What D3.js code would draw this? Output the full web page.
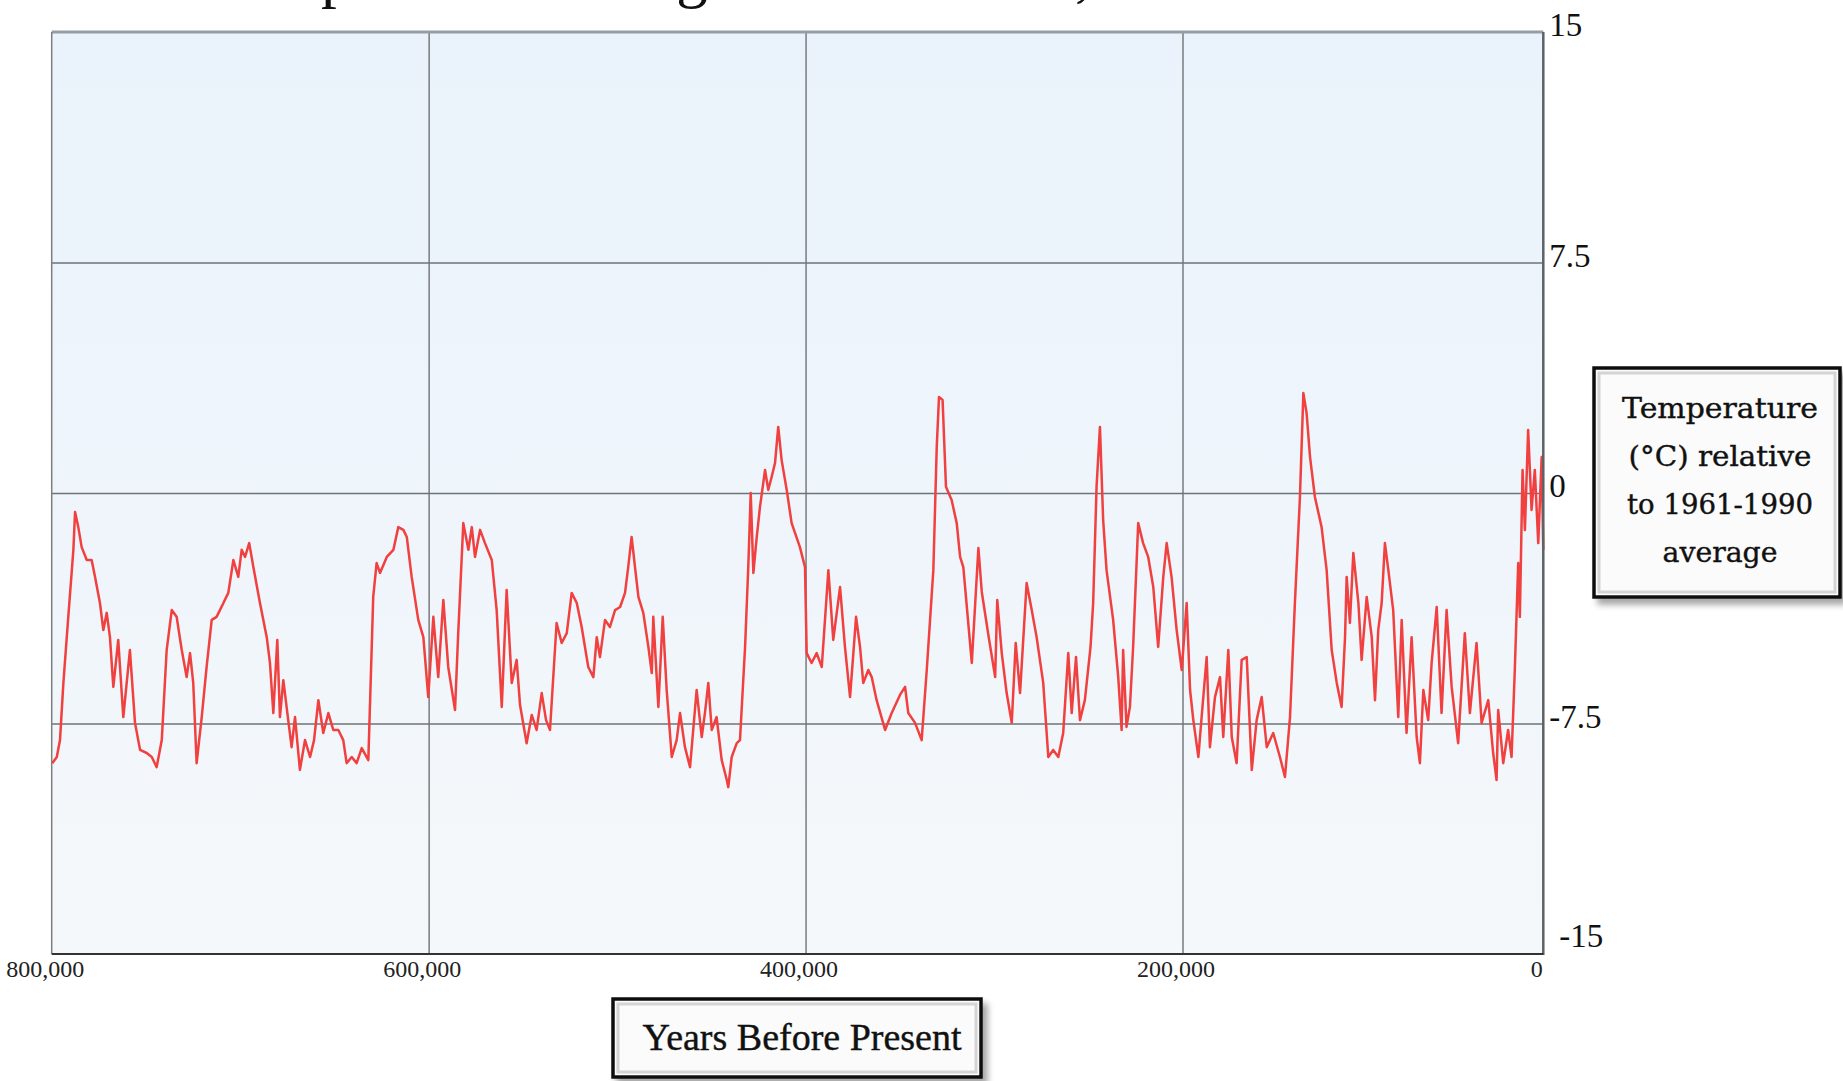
<!DOCTYPE html>
<html><head><meta charset="utf-8">
<script src="https://cdn.jsdelivr.net/npm/d3@7"></script>
<style>html,body{margin:0;padding:0;background:#fff;overflow:hidden}svg{display:block}</style>
</head><body>
<svg id="chart" width="1843" height="1081"></svg>
<script>
// ---------------- data ----------------
const titleText = "Temperature Change in Antarctica, EPICA Dome C";
const xTickValues = [800000, 600000, 400000, 200000, 0];
const yTickValues = [15, 7.5, 0, -7.5, -15];
const yTickLabels = ["15", "7.5", "0", "-7.5", "-15"];
const yAxisTitleLines = ["Temperature", "(°C) relative", "to 1961-1990", "average"];
const xAxisTitle = "Years Before Present";

// age in thousands of years before present
const agesKyr = [
799.7,797.3,795.6,793.8,791.2,788.5,787.6,785.9,784.1,781.4,778.8,777.0,774.4,772.6,770.8,769.1,767.3,764.7,762.0,758.5,
755.8,753.1,749.6,746.9,744.3,741.6,739.0,736.3,733.7,731.0,728.4,726.6,724.9,723.1,720.4,717.8,715.1,712.5,708.9,706.3,
703.6,701.0,699.2,697.4,695.2,693.0,689.5,685.9,684.2,682.4,680.3,678.9,677.1,674.5,672.7,670.9,668.3,665.6,662.9,660.8,
658.5,655.9,653.2,650.6,647.9,645.3,643.5,640.8,638.2,635.5,632.0,629.4,627.6,625.8,622.2,618.7,616.1,613.4,611.6,609.0,
605.5,602.8,600.2,597.5,594.9,592.2,589.6,586.0,584.3,581.6,578.9,577.1,575.4,572.7,570.1,566.5,563.9,561.2,
558.6,555.9,553.3,551.5,548.0,545.3,542.7,540.0,537.7,535.6,532.1,529.4,526.7,524.1,521.4,518.8,515.3,512.6,510.8,509.1,
506.4,503.8,501.1,498.4,495.8,494.1,492.3,490.5,488.7,486.1,483.4,481.6,480.8,478.1,475.8,473.7,471.0,468.4,466.6,464.0,
461.3,457.8,455.1,453.4,451.6,449.8,447.2,444.5,441.8,441.0,439.2,436.5,434.8,432.1,430.4,429.1,427.7,425.9,424.2,421.5,
419.8,418.0,416.2,414.5,412.7,410.0,407.4,405.6,403.0,400.3,399.4,396.8,394.1,391.4,387.9,385.3,381.7,379.1,376.4,373.2,
371.1,369.4,366.7,364.9,362.3,357.8,354.3,349.9,347.2,345.5,341.9,338.4,335.7,332.2,330.4,329.2,327.3,325.5,322.5,319.8,
318.0,316.3,311.8,308.3,306.5,303.0,299.4,298.3,295.9,
293.3,290.6,288.5,286.2,282.7,280.0,277.4,273.9,271.2,268.6,265.9,263.3,260.6,258.8,256.5,254.4,251.8,248.8,247.4,245.6,
243.8,242.1,240.3,236.8,234.1,232.3,231.5,229.7,227.9,226.2,223.5,220.9,218.2,215.5,212.9,210.2,208.4,205.8,203.1,200.4,
197.7,195.8,194.0,191.2,189.4,186.6,184.8,182.0,179.2,177.4,174.6,172.7,170.0,167.2,164.4,161.6,
158.9,156.1,153.3,149.7,146.0,143.2,140.4,137.7,134.9,133.0,131.2,129.3,126.6,122.9,120.1,117.3,114.5,111.8,109.9,109.0,
107.2,105.3,102.5,100.7,97.9,95.1,93.3,91.5,89.6,87.8,85.9,83.2,80.4,78.5,75.8,73.0,70.2,68.4,66.5,63.8,
61.9,59.1,56.4,53.6,50.8,47.2,43.5,40.7,37.0,34.2,30.5,27.8,25.9,25.0,22.2,19.5,17.6,15.8,13.9,13.0,
11.5,10.2,8.4,6.5,4.7,2.8,0.9,0.0
];

// temperature (°C) relative to 1961-1990 average
const tempsC = [
-8.79,-8.59,-8.04,-6.18,-4.03,-1.85,-0.62,-1.11,-1.76,-2.18,-2.18,-2.73,-3.58,-4.46,-3.90,-4.69,-6.31,-4.78,-7.29,-5.11,
-7.48,-8.36,-8.46,-8.59,-8.92,-8.04,-5.11,-3.81,-4.03,-5.11,-5.99,-5.21,-6.18,-8.79,-7.29,-5.66,-4.13,-4.03,-3.58,-3.25,
-2.18,-2.73,-1.85,-2.08,-1.63,-2.41,-3.58,-4.69,-5.53,-7.16,-4.78,-7.29,-6.09,-7.39,-8.27,-7.29,-9.01,-8.04,-8.59,-8.04,
-6.74,-7.81,-7.16,-7.71,-7.71,-8.04,-8.79,-8.59,-8.79,-8.30,-8.69,-3.38,-2.28,-2.60,-2.08,-1.85,-1.11,-1.20,-1.43,-2.73,
-4.13,-4.69,-6.64,-4.03,-5.99,-3.48,-5.66,-7.06,-4.56,-0.98,-1.85,-1.11,-2.08,-1.20,-1.63,-2.18,-3.81,-6.96,
-3.16,-6.18,-5.43,-6.90,-8.14,-7.22,-7.71,-6.51,-7.39,-7.71,-4.23,-4.88,-4.56,-3.25,-3.58,-4.36,-5.66,-5.99,-4.69,-5.34,
-4.13,-4.36,-3.81,-3.71,-3.25,-2.41,-1.43,-2.41,-3.38,-3.90,-5.01,-5.86,-4.03,-6.96,-4.03,-6.41,-8.59,-8.04,-7.16,-8.27,
-8.92,-6.41,-7.94,-7.16,-6.18,-7.71,-7.29,-8.69,-9.34,-9.57,-8.59,-8.14,-8.04,-5.01,-2.41,0.00,-2.60,-1.43,-0.46,0.75,
0.10,0.52,0.98,2.15,1.07,0.10,-0.98,-1.30,-1.76,-2.41,-5.21,-5.53,-5.21,-5.66,-2.51,-4.78,-3.06,-5.01,-6.64,-4.03,
-5.01,-6.18,-5.76,-5.99,-6.74,-7.71,-7.16,-6.57,-6.31,-7.16,-7.48,-8.04,-5.76,-2.51,1.50,3.12,3.03,0.20,-0.23,-0.98,
-2.08,-2.41,-5.53,-1.79,-3.22,-4.62,-5.99,-3.48,-5.21,
-6.51,-7.48,-4.88,-6.51,-2.93,-3.81,-4.69,-6.18,-8.59,-8.36,-8.59,-7.81,-5.21,-7.16,-5.34,-7.39,-6.74,-5.01,-3.58,0.20,
2.15,-0.88,-2.51,-4.13,-5.99,-7.71,-5.11,-7.61,-6.96,-5.01,-0.98,-1.63,-2.08,-3.06,-5.01,-2.73,-1.63,-2.73,-4.46,-5.76,
-3.58,-6.41,-7.39,-8.59,-7.29,-5.34,-8.27,-6.64,-5.99,-7.94,-5.11,-7.94,-8.79,-5.43,-5.34,-9.01,
-7.39,-6.64,-8.27,-7.81,-8.59,-9.24,-7.29,-3.58,-0.13,3.25,2.60,1.17,-0.13,-1.11,-2.51,-5.11,-6.18,-6.96,-4.69,-2.73,
-4.23,-1.95,-3.58,-5.43,-3.38,-4.69,-6.74,-4.46,-3.58,-1.63,-2.51,-3.81,-7.29,-4.13,-7.81,-4.69,-7.94,-8.79,-6.41,-7.39,
-5.53,-3.71,-7.16,-3.81,-6.31,-8.14,-4.56,-7.16,-4.88,-7.48,-6.74,-8.46,-9.34,-7.06,-8.79,-7.71,-8.59,-5.76,-2.28,-4.03,
0.75,-1.20,2.05,-0.55,0.75,-1.63,1.17,-1.85
];

// ---------------- drawing ----------------
const svg = d3.select("#chart");
const defs = svg.append("defs");

const bg = defs.append("linearGradient").attr("id", "plotbg")
  .attr("x1", 0).attr("y1", 0).attr("x2", 0).attr("y2", 1);
bg.append("stop").attr("offset", "0%").attr("stop-color", "#eaf3fb");
bg.append("stop").attr("offset", "55%").attr("stop-color", "#eff5fb");
bg.append("stop").attr("offset", "100%").attr("stop-color", "#f5f8fa");

const shadow = defs.append("filter").attr("id", "shadow")
  .attr("x", "-10%").attr("y", "-10%").attr("width", "130%").attr("height", "140%");
shadow.append("feDropShadow").attr("dx", 5).attr("dy", 6).attr("stdDeviation", 3)
  .attr("flood-color", "#000").attr("flood-opacity", 0.35);

const L = 51.7, R = 1543.3, T = 32, B = 954;
// the reference axis places 200,000 → 0 on a slightly shorter span
const x = d3.scaleLinear().domain([800000, 200000, 0]).range([L, 1182.5, R]);
const y = d3.scaleLinear().domain([-15, 15]).range([B, T]);

// title (cut off by the top edge in the reference)
svg.append("text").attr("x", 210).attr("y", -5)
  .attr("font-family", "Liberation Serif, serif").attr("font-size", 63)
  .attr("fill", "#111").text(titleText);

// plot background
svg.append("rect").attr("x", L).attr("y", T).attr("width", R - L).attr("height", B - T)
  .attr("fill", "url(#plotbg)");

// grid lines
const gridX = svg.append("g").attr("transform", `translate(0,${B})`)
  .call(d3.axisBottom(x).tickValues(xTickValues.filter(v => v !== 800000 && v !== 0))
    .tickSize(-(B - T)).tickFormat(""));
gridX.select(".domain").remove();
gridX.selectAll("line").attr("stroke", "#6f7376").attr("stroke-width", 1.4);

const gridY = svg.append("g").attr("transform", `translate(${L},0)`)
  .call(d3.axisLeft(y).tickValues(yTickValues.filter(v => Math.abs(v) !== 15))
    .tickSize(-(R - L)).tickFormat(""));
gridY.select(".domain").remove();
gridY.selectAll("line").attr("stroke", "#6f7376").attr("stroke-width", 1.4);

// borders
svg.append("line").attr("x1", L).attr("x2", R).attr("y1", T).attr("y2", T)
  .attr("stroke", "#959ea4").attr("stroke-width", 3);
svg.append("line").attr("x1", L).attr("x2", L).attr("y1", T).attr("y2", B)
  .attr("stroke", "#7b7f82").attr("stroke-width", 1.5);

// data line
const data = agesKyr.map((a, i) => ({ age: a * 1000, t: tempsC[i] }));
const line = d3.line().x(d => x(d.age)).y(d => y(d.t));
svg.append("path").datum(data).attr("d", line)
  .attr("fill", "none").attr("stroke", "#f0403f").attr("stroke-width", 2.5)
  .attr("stroke-linejoin", "round");

svg.append("line").attr("x1", R).attr("x2", R).attr("y1", T).attr("y2", B + 1)
  .attr("stroke", "#5d6266").attr("stroke-width", 2.5);
svg.append("line").attr("x1", L).attr("x2", R).attr("y1", B).attr("y2", B)
  .attr("stroke", "#333").attr("stroke-width", 2.2);

// x axis labels
const xAxis = svg.append("g").attr("transform", `translate(0,${B})`)
  .call(d3.axisBottom(x).tickValues(xTickValues).tickSize(0).tickPadding(6)
    .tickFormat(d3.format(",")));
xAxis.select(".domain").remove();
xAxis.selectAll("text").attr("x", -7)
  .attr("font-family", "Liberation Serif, serif").attr("font-size", 24).attr("fill", "#222");

// y axis labels (right side)
const yAxis = svg.append("g").attr("transform", `translate(${R},0)`)
  .call(d3.axisRight(y).tickValues(yTickValues).tickSize(0)
    .tickFormat((d, i) => yTickLabels[i]));
yAxis.select(".domain").remove();
yAxis.selectAll("text")
  .attr("x", d => d === -15 ? 16 : 6)
  .attr("dy", d => d === -15 ? -8 : 3.5)
  .attr("font-family", "Liberation Serif, serif").attr("font-size", 33).attr("fill", "#111");

// y axis title box
const yBox = svg.append("g");
yBox.append("rect").attr("x", 1594).attr("y", 368).attr("width", 246).attr("height", 229)
  .attr("fill", "#fbfbfb").attr("stroke", "#111").attr("stroke-width", 3.5)
  .attr("filter", "url(#shadow)");
yBox.append("rect").attr("x", 1599).attr("y", 373).attr("width", 236).attr("height", 219)
  .attr("fill", "none").attr("stroke", "#d4d4d4").attr("stroke-width", 3);
const yLineWidths = [196, 183, 186, 115];
yBox.selectAll("text.ytitle").data(yAxisTitleLines).join("text").attr("class", "ytitle")
  .attr("x", 1720).attr("y", (d, i) => 418 + i * 48)
  .attr("text-anchor", "middle")
  .attr("textLength", (d, i) => yLineWidths[i]).attr("lengthAdjust", "spacingAndGlyphs")
  .attr("font-family", "DejaVu Serif, serif").attr("font-size", 28).attr("fill", "#111")
  .attr("stroke", "#111").attr("stroke-width", 0.4)
  .text(d => d);

// x axis title box
const xBox = svg.append("g");
xBox.append("rect").attr("x", 613).attr("y", 999).attr("width", 368).attr("height", 78)
  .attr("fill", "#fbfbfb").attr("stroke", "#111").attr("stroke-width", 3.5)
  .attr("filter", "url(#shadow)");
xBox.append("rect").attr("x", 618).attr("y", 1004).attr("width", 358).attr("height", 68)
  .attr("fill", "none").attr("stroke", "#d4d4d4").attr("stroke-width", 3);
xBox.append("text").attr("x", 802).attr("y", 1050).attr("text-anchor", "middle")
  .attr("textLength", 319).attr("lengthAdjust", "spacingAndGlyphs")
  .attr("font-family", "Liberation Serif, serif").attr("font-size", 38).attr("fill", "#111")
  .attr("stroke", "#111").attr("stroke-width", 0.4)
  .text(xAxisTitle);
</script>
</body></html>
